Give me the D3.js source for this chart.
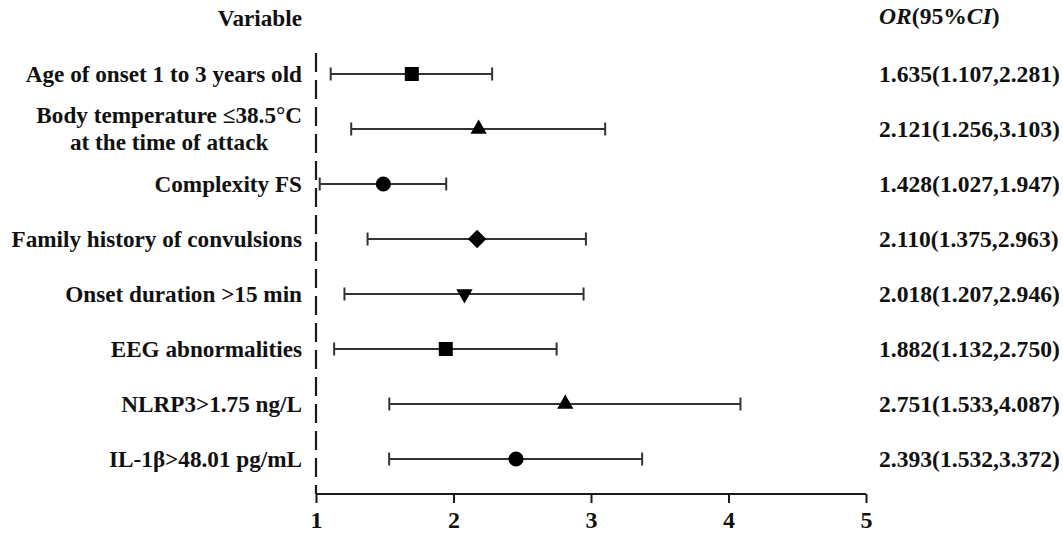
<!DOCTYPE html>
<html>
<head>
<meta charset="utf-8">
<script src="https://cdn.jsdelivr.net/npm/d3@7"></script>
<style>
  html, body { margin: 0; padding: 0; background: #fff; }
  svg { display: block; }
  text { font-family: "Liberation Serif", "Times New Roman", serif; font-weight: bold; fill: #111; }
</style>
</head>
<body>
<svg id="chart" width="1063" height="539"></svg>
<script>
// ---- data ----
const variables = [
  ["Age of onset 1 to 3 years old"],
  ["Body temperature \u226438.5\u00B0C", "at the time of attack"],
  ["Complexity FS"],
  ["Family history of convulsions"],
  ["Onset duration >15 min"],
  ["EEG abnormalities"],
  ["NLRP3>1.75 ng/L"],
  ["IL-1\u03B2>48.01 pg/mL"]
];
const orValues = [1.635, 2.121, 1.428, 2.110, 2.018, 1.882, 2.751, 2.393];
const ciLow    = [1.107, 1.256, 1.027, 1.375, 1.207, 1.132, 1.533, 1.532];
const ciHigh   = [2.281, 3.103, 1.947, 2.963, 2.946, 2.750, 4.087, 3.372];
const markerShapes = ["square", "triangle", "circle", "diamond", "triangleDown", "square", "triangle", "circle"];
const xTicks = [1, 2, 3, 4, 5];
const xDomain = [1, 5];

// ---- layout ----
const svg = d3.select("#chart");
const x = d3.scaleLinear().domain(xDomain).range([316, 866]);
const y = d3.scalePoint().domain(d3.range(variables.length)).range([74, 459]);
const axisY = 494;
const refTop = 53;
const labelRight = 302;
const valueLeft = 879;
const fontSize = 23.2;
const valueFontSize = 23.6;
const markerShift = 8.5; // symbols in the original sit slightly right of their value
const ink = "#1a1a1a";

// reference line at OR = 1 (dashed)
svg.append("line")
  .attr("x1", x(1)).attr("x2", x(1))
  .attr("y1", refTop).attr("y2", axisY)
  .attr("stroke", ink).attr("stroke-width", 2.2)
  .attr("stroke-dasharray", "19,8");

// x axis
const axis = d3.axisBottom(x).tickValues(xTicks).tickSize(9).tickPadding(8).tickFormat(d3.format("d"));
const gAxis = svg.append("g").attr("transform", `translate(0,${axisY})`).call(axis);
gAxis.select(".domain").attr("stroke", ink).attr("stroke-width", 2).attr("d", `M${x(1)},0H${x(5)}`);
gAxis.selectAll(".tick line").attr("stroke", ink).attr("stroke-width", 2);
gAxis.selectAll(".tick text")
  .attr("font-family", "Liberation Serif, serif").attr("font-weight", "bold")
  .attr("font-size", 24).attr("fill", "#111");

// CI lines
const rows = svg.append("g").selectAll("g").data(d3.range(variables.length)).join("g");
rows.append("line")
  .attr("x1", i => x(ciLow[i])).attr("x2", i => x(ciHigh[i]))
  .attr("y1", i => y(i)).attr("y2", i => y(i))
  .attr("stroke", "#333").attr("stroke-width", 2.2);
rows.append("line")
  .attr("x1", i => x(ciLow[i])).attr("x2", i => x(ciLow[i]))
  .attr("y1", i => y(i) - 6.5).attr("y2", i => y(i) + 6.5)
  .attr("stroke", "#333").attr("stroke-width", 2);
rows.append("line")
  .attr("x1", i => x(ciHigh[i])).attr("x2", i => x(ciHigh[i]))
  .attr("y1", i => y(i) - 6.5).attr("y2", i => y(i) + 6.5)
  .attr("stroke", "#333").attr("stroke-width", 2);

// markers
const symbolFor = {
  square:       { type: d3.symbolSquare,   size: 196, rotate: 0 },
  circle:       { type: d3.symbolCircle,   size: 180, rotate: 0 },
  diamond:      { type: d3.symbolSquare,   size: 170, rotate: 45 },
  triangle:     { type: d3.symbolTriangle, size: 115, rotate: 0 },
  triangleDown: { type: d3.symbolTriangle, size: 115, rotate: 180 }
};
rows.append("path")
  .attr("d", i => d3.symbol().type(symbolFor[markerShapes[i]].type).size(symbolFor[markerShapes[i]].size)())
  .attr("transform", i => `translate(${x(orValues[i]) + markerShift},${y(i)}) rotate(${symbolFor[markerShapes[i]].rotate})`)
  .attr("fill", "#000");

// left labels
svg.append("text").attr("x", labelRight).attr("y", 18).attr("dy", "0.35em")
  .attr("text-anchor", "end").attr("font-size", fontSize).text("Variable");

variables.forEach((lines, i) => {
  if (lines.length === 1) {
    svg.append("text").attr("x", labelRight).attr("y", y(i)).attr("dy", "0.35em")
      .attr("text-anchor", "end").attr("font-size", fontSize).text(lines[0]);
  } else {
    const t1 = svg.append("text").attr("x", labelRight).attr("y", y(i) - 14).attr("dy", "0.35em")
      .attr("text-anchor", "end").attr("font-size", fontSize).text(lines[0]);
    const w = t1.node().getComputedTextLength();
    svg.append("text").attr("x", labelRight - w / 2).attr("y", y(i) + 13).attr("dy", "0.35em")
      .attr("text-anchor", "middle").attr("font-size", fontSize).text(lines[1]);
  }
});

// right column
const hdr = svg.append("text").attr("x", valueLeft).attr("y", 16).attr("dy", "0.35em").attr("font-size", valueFontSize);
hdr.append("tspan").attr("font-style", "italic").text("OR");
hdr.append("tspan").text("(95%");
hdr.append("tspan").attr("font-style", "italic").text("CI");
hdr.append("tspan").text(")");

const f3 = d3.format(".3f");
variables.forEach((_, i) => {
  svg.append("text").attr("x", valueLeft).attr("y", y(i)).attr("dy", "0.35em")
    .attr("font-size", valueFontSize)
    .text(`${f3(orValues[i])}(${f3(ciLow[i])},${f3(ciHigh[i])})`);
});
</script>
</body>
</html>
